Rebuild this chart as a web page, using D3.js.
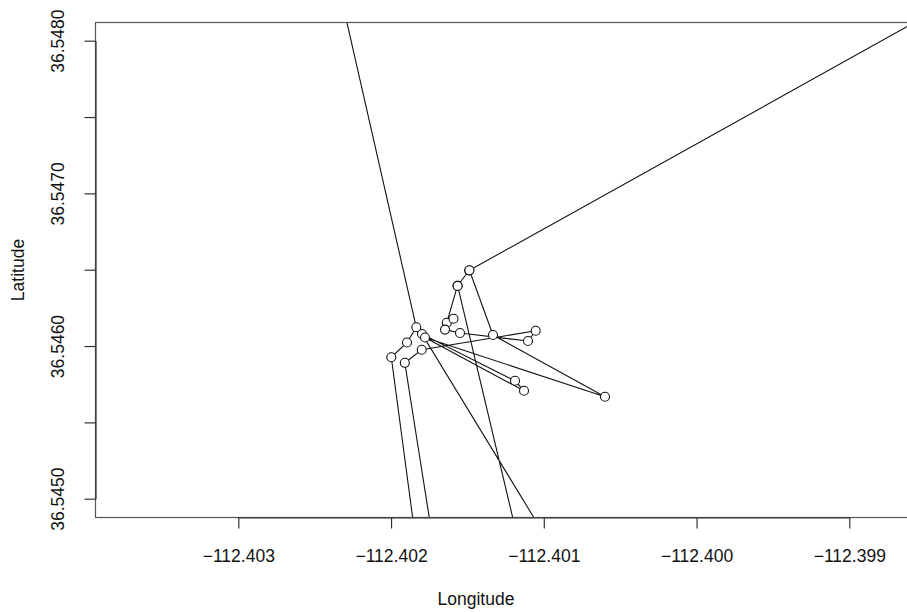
<!DOCTYPE html>
<html>
<head>
<meta charset="utf-8">
<script src="https://cdn.jsdelivr.net/npm/d3@7"></script>
<style>
  html, body { margin: 0; padding: 0; background: #fff; }
  svg { display: block; }
  text { font-family: "Liberation Sans", Arial, sans-serif; }
</style>
</head>
<body>
<svg id="chart" width="907" height="612"></svg>
<script>
// GPS track: longitude / latitude of each fix, in recorded order.
// A few fixes far off the site (glitches) run off the plotted window.
const longitude = [
  -112.4014884, -112.4015650, -112.4016350, -112.4015912, -112.4016468,
  -112.4015486, -112.4011034, -112.4010530, -112.4017993, -112.4019100,
  -112.4015401, -112.4001771, -112.4017974, -112.4011885, -112.4011296,
  -112.4017777, -112.4005994, -112.4013326, -112.4014870, -112.3960494,
  -112.4029182, -112.4018347, -112.4018956, -112.4019984, -112.4017430,
  -112.4009509, -112.4015640
];
const latitude = [
  36.5464947, 36.5463952, 36.5461528, 36.5461784, 36.5461076,
  36.5460854, 36.5460330, 36.5461004, 36.5459760, 36.5458901,
  36.5435505, 36.5434195, 36.5460788, 36.5457723, 36.5457068,
  36.5460559, 36.5456675, 36.5460722, 36.5464960, 36.5495255,
  36.5508866, 36.5461227, 36.5460231, 36.5459262, 36.5440090,
  36.5438125, 36.5463940
];
const xTicks = [-112.403, -112.402, -112.401, -112.400, -112.399];
const yTicks = [36.5450, 36.5455, 36.5460, 36.5465, 36.5470, 36.5475, 36.5480];
const yLabelled = [36.5450, 36.5460, 36.5470, 36.5480];
const xTitle = "Longitude";
const yTitle = "Latitude";

const track = longitude.map((lon, i) => ({ lon, lat: latitude[i] }));

const svg = d3.select("#chart");
const fontSize = 17.5;

// Plot window (right side runs past the page edge)
const box = { left: 95.5, top: 22.5, right: 940, bottom: 517.5 };

const x = d3.scaleLinear().domain([-112.403, -112.399]).range([238.3, 849.3]);
const y = d3.scaleLinear().domain([36.5450, 36.5480]).range([498.7, 40.7]);

svg.append("defs").append("clipPath").attr("id", "plotClip")
  .append("rect")
  .attr("x", box.left).attr("y", box.top)
  .attr("width", box.right - box.left).attr("height", box.bottom - box.top);

const plot = svg.append("g").attr("clip-path", "url(#plotClip)");

const line = d3.line().x(d => x(d.lon)).y(d => y(d.lat));
plot.append("path")
  .datum(track)
  .attr("d", line)
  .attr("fill", "none")
  .attr("stroke", "#111")
  .attr("stroke-width", 1.1);

plot.selectAll("circle")
  .data(track)
  .join("circle")
  .attr("cx", d => x(d.lon))
  .attr("cy", d => y(d.lat))
  .attr("r", 4.5)
  .attr("fill", "#fff")
  .attr("stroke", "#111")
  .attr("stroke-width", 1.1);

// Frame
svg.append("rect")
  .attr("x", box.left).attr("y", box.top)
  .attr("width", box.right - box.left).attr("height", box.bottom - box.top)
  .attr("fill", "none")
  .attr("stroke", "#555")
  .attr("stroke-width", 1.2);

// Bottom axis
const xAxis = svg.append("g")
  .attr("transform", `translate(0,${box.bottom})`)
  .call(d3.axisBottom(x).tickValues(xTicks).tickSize(11).tickSizeOuter(0)
    .tickPadding(21).tickFormat(d3.format(".3f")));
xAxis.selectAll("path, line").attr("stroke", "#333").attr("stroke-width", 1.2);
xAxis.selectAll("text").attr("font-size", fontSize).attr("fill", "#111")
  .attr("font-family", "Liberation Sans, Arial, sans-serif");

// Left axis (labels parallel to the axis)
const yAxis = svg.append("g")
  .attr("transform", `translate(${box.left},0)`)
  .call(d3.axisLeft(y).tickValues(yTicks).tickSize(11).tickSizeOuter(0)
    .tickFormat(d => yLabelled.some(v => Math.abs(v - d) < 1e-9) ? d3.format(".4f")(d) : ""));
yAxis.selectAll("path, line").attr("stroke", "#333").attr("stroke-width", 1.2);
yAxis.selectAll("text")
  .attr("font-size", fontSize).attr("fill", "#111")
  .attr("font-family", "Liberation Sans, Arial, sans-serif")
  .attr("x", null).attr("dy", null)
  .attr("text-anchor", "middle")
  .attr("transform", "translate(-32,0) rotate(-90)");

// Axis titles
svg.append("text")
  .attr("x", 476).attr("y", 605)
  .attr("text-anchor", "middle")
  .attr("font-size", fontSize).attr("fill", "#111")
  .text(xTitle);
svg.append("text")
  .attr("transform", `translate(24,${(box.top + box.bottom) / 2}) rotate(-90)`)
  .attr("text-anchor", "middle")
  .attr("font-size", fontSize).attr("fill", "#111")
  .text(yTitle);
</script>
</body>
</html>
